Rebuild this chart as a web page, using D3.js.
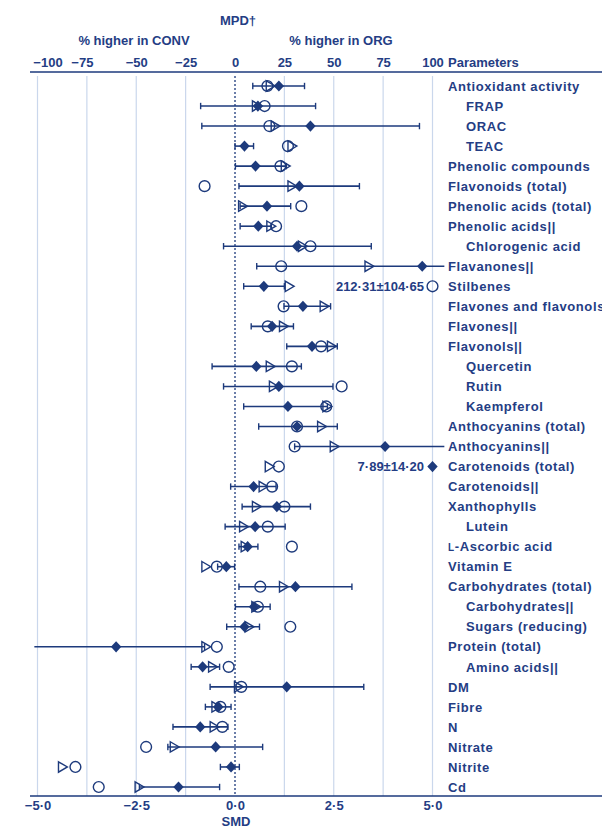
<!DOCTYPE html>
<html>
<head>
<meta charset="utf-8">
<script src="https://cdn.jsdelivr.net/npm/d3@7"></script>
<style>
  html, body { margin: 0; padding: 0; background: #fff; }
  svg { display: block; }
  text { font-family: "Liberation Sans", Arial, sans-serif; font-weight: bold; fill: #243d84; }
</style>
</head>
<body>
<svg id="chart" width="602" height="831"></svg>
<script>
// Parameter names, top to bottom; indent = sub-category
const params = [
  "Antioxidant activity", "FRAP", "ORAC", "TEAC", "Phenolic compounds",
  "Flavonoids (total)", "Phenolic acids (total)", "Phenolic acids||", "Chlorogenic acid",
  "Flavanones||", "Stilbenes", "Flavones and flavonols", "Flavones||", "Flavonols||",
  "Quercetin", "Rutin", "Kaempferol", "Anthocyanins (total)", "Anthocyanins||",
  "Carotenoids (total)", "Carotenoids||", "Xanthophylls", "Lutein", "L-Ascorbic acid",
  "Vitamin E", "Carbohydrates (total)", "Carbohydrates||", "Sugars (reducing)",
  "Protein (total)", "Amino acids||", "DM", "Fibre", "N", "Nitrate", "Nitrite", "Cd"
];
const indent = [0,1,1,1,0,0,0,0,1,0,0,0,0,0,1,1,1,0,0,0,0,0,1,0,0,0,1,1,0,1,0,0,0,0,0,0];

// Weighted SMD (filled diamond) with 95 % CI
const smdWeighted = [1.11,0.58,1.91,0.24,0.52,1.63,0.81,0.59,1.57,4.74,0.73,1.72,0.94,1.95,0.54,1.11,1.34,1.57,3.80,7.89,0.47,1.06,0.51,0.32,-0.22,1.53,0.48,0.24,-3.01,-0.82,1.31,-0.42,-0.88,-0.49,-0.10,-1.43];
const ciLow  = [0.45,-0.87,-0.84,0.00,0.01,0.10,0.13,0.13,-0.29,0.55,0.22,1.24,0.41,1.31,-0.58,-0.29,0.22,0.60,1.51,null,-0.11,0.18,-0.25,0.10,-0.44,0.10,0.01,-0.21,-5.08,-1.11,-0.63,-0.75,-1.57,-1.70,-0.37,-2.42];
const ciHigh = [1.76,2.04,4.67,0.47,1.30,3.15,1.41,0.92,3.45,5.30,1.25,2.42,1.48,2.59,1.68,2.48,2.34,2.59,5.30,null,1.04,1.91,1.27,0.58,-0.01,2.96,0.89,0.62,-0.77,-0.39,3.26,-0.10,-0.18,0.70,0.11,-0.39];
// Unweighted SMD (open circle)
const smdUnweighted = [0.82,0.75,0.87,1.34,1.15,-0.77,1.68,1.04,1.91,1.17,212.31,1.23,0.83,2.18,1.44,2.70,2.31,1.57,1.51,1.11,0.94,1.25,0.83,1.44,-0.46,0.64,0.58,1.40,-0.46,-0.16,0.16,-0.37,-0.32,-2.25,-4.04,-3.45];
// Mean percentage difference (open triangle), top axis
const mpd = [18,11,20.5,29,25.6,29,4,18.3,34.3,68,27.6,45.3,24.7,49,18,19.6,46.7,44,50.4,17.5,14.4,11,4.5,5.3,-14.6,24.7,10.7,7.3,-14.6,-11.2,1.9,-9.5,-10.4,-30.6,-87.2,-48.4];
// Values beyond the plotted range, printed beside the clamped mark
const offScaleRows  = [10, 19];
const offScaleTexts = ["212·31±104·65", "7·89±14·20"];

const smdTicks = [-5, -2.5, 0, 2.5, 5];
const mpdTicks = [-100, -75, -50, -25, 0, 25, 50, 75, 100];
const gridValues = [-5, -3.75, -2.5, -1.25, 1.25, 2.5, 3.75, 5];

const navy = "#1d3a7c";
const gridCol = "#cad7ec";

const svg = d3.select("#chart");
const x = d3.scaleLinear().domain([-5, 5]).range([37.5, 432.5]);
const xMpd = d3.scaleLinear().domain([-100, 100]).range([37.5, 432.5]);
const y = d3.scalePoint().domain(d3.range(params.length)).range([86, 787]);
const limit = 5.3;                       // bars are cut at the plot edge
const xc = v => x(Math.max(-5, Math.min(5, v)));

const plotTop = 76, plotBottom = 796;

// grid
svg.append("g").selectAll("line").data(gridValues).join("line")
  .attr("x1", d => x(d)).attr("x2", d => x(d))
  .attr("y1", plotTop).attr("y2", plotBottom)
  .attr("stroke", gridCol).attr("stroke-width", 1.2);

// zero line
svg.append("line")
  .attr("x1", x(0)).attr("x2", x(0)).attr("y1", plotTop).attr("y2", plotBottom)
  .attr("stroke", navy).attr("stroke-width", 1.3).attr("stroke-dasharray", "2,2");

// axis rules
svg.append("line").attr("x1", 30).attr("x2", 602).attr("y1", 72).attr("y2", 72)
  .attr("stroke", navy).attr("stroke-width", 1.6);
svg.append("line").attr("x1", 30).attr("x2", 602).attr("y1", plotBottom).attr("y2", plotBottom)
  .attr("stroke", navy).attr("stroke-width", 1.6);

const fmt = v => (v < 0 ? "\u2212" : "") + Math.abs(v).toFixed(1).replace(".", "\u00b7");
const fmtInt = v => (v < 0 ? "\u2212" : "") + Math.abs(v);

// top axis (MPD)
const topAxis = svg.append("g").attr("transform", "translate(0,67)")
  .call(d3.axisTop(xMpd).tickValues(mpdTicks).tickFormat(fmtInt).tickSize(0).tickPadding(0));
topAxis.select(".domain").remove();
topAxis.selectAll("text")
  .attr("font-size", 13).attr("fill", "#243d84")
  .style("font-family", "'Liberation Sans', Arial, sans-serif").style("font-weight", "bold")
  .attr("dx", d => d === -100 ? 10 : (d === -75 ? -5 : 0));

// bottom axis (SMD)
const botAxis = svg.append("g").attr("transform", "translate(0,801)")
  .call(d3.axisBottom(x).tickValues(smdTicks).tickFormat(fmt).tickSize(0).tickPadding(0));
botAxis.select(".domain").remove();
botAxis.selectAll("text")
  .attr("font-size", 13).attr("fill", "#243d84")
  .style("font-family", "'Liberation Sans', Arial, sans-serif").style("font-weight", "bold");

// headings
svg.append("text").attr("x", 238).attr("y", 25).attr("text-anchor", "middle")
  .attr("font-size", 13).text("MPD\u2020");
svg.append("text").attr("x", 134).attr("y", 45).attr("text-anchor", "middle")
  .attr("font-size", 13).text("% higher in CONV");
svg.append("text").attr("x", 341).attr("y", 45).attr("text-anchor", "middle")
  .attr("font-size", 13).text("% higher in ORG");
svg.append("text").attr("x", 448).attr("y", 67).attr("font-size", 13).text("Parameters");
svg.append("text").attr("x", 236).attr("y", 826).attr("text-anchor", "middle")
  .attr("font-size", 13).text("SMD");

// parameter labels
const lab = svg.append("g").selectAll("text").data(params).join("text")
  .attr("x", (d, i) => indent[i] ? 466 : 448)
  .attr("y", (d, i) => y(i)).attr("dy", "0.36em")
  .attr("font-size", 13).style("letter-spacing", "0.6px");
lab.each(function (d) {
  const t = d3.select(this);
  if (d.startsWith("L-")) {
    t.append("tspan").attr("font-size", 10).text("L");
    t.append("tspan").text(d.slice(1));
  } else t.text(d);
});

const rows = d3.range(params.length);

// error bars
const bars = svg.append("g").attr("stroke", navy).attr("fill", "none");
rows.filter(i => ciLow[i] !== null).forEach(i => {
  const lo = Math.max(-limit, ciLow[i]), hi = Math.min(limit, ciHigh[i]);
  const yy = y(i);
  bars.append("line").attr("x1", x(lo)).attr("x2", x(hi)).attr("y1", yy).attr("y2", yy)
    .attr("stroke-width", 1.6);
  [ciLow[i], ciHigh[i]].forEach(v => {
    if (Math.abs(v) <= 5) {
      bars.append("line").attr("x1", x(v)).attr("x2", x(v))
        .attr("y1", yy - 3.2).attr("y2", yy + 3.2).attr("stroke-width", 1.4);
    }
  });
});

// triangles (MPD)
svg.append("g").selectAll("path").data(rows).join("path")
  .attr("transform", i => `translate(${xMpd(mpd[i])},${y(i)})`)
  .attr("d", "M-4.3,-5.2L4.6,0L-4.3,5.2Z")
  .attr("fill", "none").attr("stroke", navy).attr("stroke-width", 1.4);

// circles (unweighted SMD)
svg.append("g").selectAll("circle").data(rows).join("circle")
  .attr("cx", i => xc(smdUnweighted[i])).attr("cy", i => y(i)).attr("r", 5.4)
  .attr("fill", "none").attr("stroke", navy).attr("stroke-width", 1.4);

// diamonds (weighted SMD)
svg.append("g").selectAll("path").data(rows).join("path")
  .attr("transform", i => `translate(${xc(smdWeighted[i])},${y(i)})`)
  .attr("d", "M0,-5.6L5.2,0L0,5.6L-5.2,0Z")
  .attr("fill", navy);

// notes for off-scale values
svg.append("g").selectAll("text").data(offScaleRows).join("text")
  .attr("x", 424).attr("y", i => y(i)).attr("dy", "0.36em")
  .attr("text-anchor", "end").attr("font-size", 13)
  .text((i, k) => offScaleTexts[k]);
</script>
</body>
</html>
